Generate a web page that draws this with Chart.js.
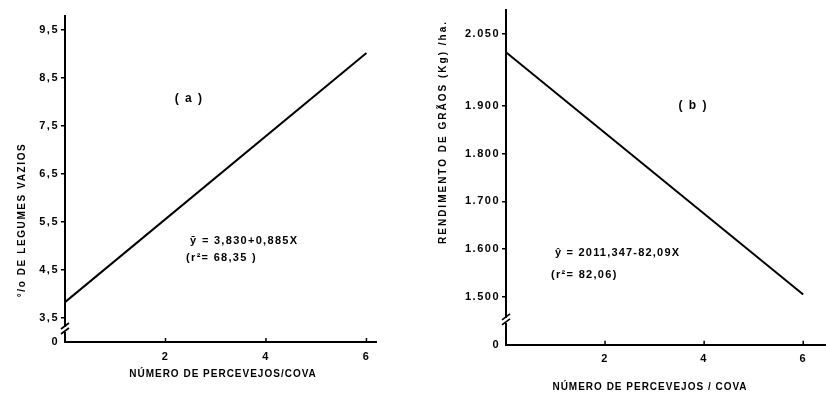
<!DOCTYPE html>
<html>
<head>
<meta charset="utf-8">
<script src="https://cdn.jsdelivr.net/npm/chart.js@4.4.0/dist/chart.umd.min.js"></script>
<style>
body{margin:0;background:#fff;width:826px;height:394px;overflow:hidden;position:relative}
canvas{position:absolute;top:0}
#chartA{left:0}
#chartB{left:413px}
</style>
</head>
<body>
<canvas id="chartA" width="413" height="394"></canvas>
<canvas id="chartB" width="413" height="394"></canvas>
<script>
// (a) % de legumes vazios
var xA = [0, 6]
var yA = [3.83, 9.02]
var yTicksA = [3, 3.5, 4.5, 5.5, 6.5, 7.5, 8.5, 9.5]
var yLabelsA = ["0", "3,5", "4,5", "5,5", "6,5", "7,5", "8,5", "9,5"]

// (b) rendimento de graos
var xB = [0, 6]
var yB = [2012, 1505]
var yTicksB = [1400, 1500, 1600, 1700, 1800, 1900, 2050]
var yLabelsB = ["0", "1.500", "1.600", "1.700", "1.800", "1.900", "2.050"]

var xTicks = [2, 4, 6]
var xLabels = ["2", "4", "6"]

var FONT = '"Liberation Sans", Arial, sans-serif'

function txt(ctx, s, x, y, font, align, spacing, rot) {
    ctx.save()
    ctx.font = font
    ctx.letterSpacing = spacing + 'px'
    ctx.fillStyle = '#000'
    ctx.textBaseline = 'middle'
    ctx.textAlign = align
    ctx.translate(x, y)
    if (rot) ctx.rotate(rot)
    ctx.fillText(s, 0, 0)
    ctx.restore()
}

function makeChart(id, xs, ys, yTicks, yLabels, cfg) {
    var extras = {
        id: 'extras',
        beforeUpdate: function(c) { c.ctx.letterSpacing = '1.5px' },
        beforeDraw: function(c) { c.ctx.letterSpacing = '1.5px' },
        afterDraw: function(c) {
            var ctx = c.ctx
            var sx = c.scales.x, sy = c.scales.y
            var a = c.chartArea
            // small x tick marks pointing up
            ctx.save()
            ctx.strokeStyle = '#000'
            ctx.lineWidth = 1.5
            xTicks.forEach(function(v) {
                var px = sx.getPixelForValue(v)
                ctx.beginPath()
                ctx.moveTo(px, a.bottom)
                ctx.lineTo(px, a.bottom - 4)
                ctx.stroke()
            })
            // axis break
            var py = sy.getPixelForValue(cfg.breakAt)
            var ax = a.left
            ctx.fillStyle = '#fff'
            ctx.fillRect(ax - 2, py - 3, 4, 5)
            ctx.lineWidth = 1.6
            ctx.beginPath()
            ctx.moveTo(ax - 4, py - 1); ctx.lineTo(ax + 4, py - 7)
            ctx.moveTo(ax - 4, py + 4); ctx.lineTo(ax + 4, py - 2)
            ctx.stroke()
            ctx.restore()
            // notes in data coordinates
            cfg.notes.forEach(function(n) {
                txt(ctx, n.text, sx.getPixelForValue(n.x), sy.getPixelForValue(n.y),
                    'bold ' + n.size + 'px ' + FONT, n.align, n.spacing)
            })
            // axis titles
            txt(ctx, cfg.yTitle, cfg.yTitlePos[0], cfg.yTitlePos[1], 'bold 10px ' + FONT, 'center', cfg.yTitleSpacing, -Math.PI / 2)
            txt(ctx, cfg.xTitle, cfg.xTitlePos[0], cfg.xTitlePos[1], 'bold 10px ' + FONT, 'center', 1)
        }
    }
    return new Chart(document.getElementById(id), {
        type: 'scatter',
        data: {
            datasets: [{
                data: xs.map(function(x, i) { return {x: x, y: ys[i]} }),
                showLine: true,
                pointRadius: 0,
                borderColor: '#000',
                borderWidth: 2,
                fill: false
            }]
        },
        options: {
            responsive: false,
            animation: false,
            devicePixelRatio: 1,
            layout: { padding: cfg.padding },
            plugins: { legend: { display: false }, tooltip: { enabled: false } },
            scales: {
                x: {
                    type: 'linear', min: 0, max: cfg.xMax,
                    afterBuildTicks: function(s) { s.ticks = xTicks.map(function(v) { return {value: v} }) },
                    afterFit: function(s) { s.height = cfg.xHeight },
                    grid: { drawOnChartArea: false, drawTicks: false },
                    border: { display: true, color: '#000', width: 2 },
                    ticks: {
                        autoSkip: false, maxRotation: 0, padding: 8, color: '#000',
                        font: { family: FONT, size: 11, weight: 'bold' },
                        callback: function(v, i) { return xLabels[i] }
                    }
                },
                y: {
                    type: 'linear', min: cfg.yMin, max: cfg.yMax,
                    afterBuildTicks: function(s) { s.ticks = yTicks.map(function(v) { return {value: v} }) },
                    afterFit: function(s) { s.width = cfg.yWidth },
                    grid: {
                        drawOnChartArea: false, drawTicks: true, tickLength: 4, lineWidth: 1.5,
                        color: function(c) { return c.index === 0 ? 'rgba(0,0,0,0)' : '#000' }
                    },
                    border: { display: true, color: '#000', width: 2 },
                    ticks: {
                        autoSkip: false, padding: 2, color: '#000',
                        font: { family: FONT, size: 11, weight: 'bold' },
                        callback: function(v, i) { return yLabels[i] }
                    }
                }
            }
        },
        plugins: [extras]
    })
}

makeChart('chartA', xA, yA, yTicksA, yLabelsA, {
    xMax: 6.2, yMin: 3, yMax: 9.8, breakAt: 3.25,
    yWidth: 65, xHeight: 52,
    padding: { left: 0, top: 15.6, right: 36.5, bottom: 0 },
    yTitle: '°/o DE LEGUMES VAZIOS', yTitlePos: [22, 220], yTitleSpacing: 1.6,
    xTitle: 'NÚMERO DE PERCEVEJOS/COVA', xTitlePos: [223, 374],
    notes: [
        { text: '( a )', x: 2.47, y: 8.06, size: 12, align: 'center', spacing: 1.5 },
        { text: 'ȳ = 3,830+0,885X', x: 2.49, y: 5.10, size: 11, align: 'left', spacing: 1.3 },
        { text: '(r²= 68,35 )', x: 2.41, y: 4.75, size: 11, align: 'left', spacing: 1.3 }
    ]
})

makeChart('chartB', xB, yB, yTicksB, yLabelsB, {
    xMax: 6.45, yMin: 1400, yMax: 2100, breakAt: 1450,
    yWidth: 93, xHeight: 49.2,
    padding: { left: 0, top: 10.1, right: 0.5, bottom: 0 },
    yTitle: 'RENDIMENTO DE GRÃOS (Kg) /ha.', yTitlePos: [30, 132], yTitleSpacing: 2,
    xTitle: 'NÚMERO DE PERCEVEJOS / COVA', xTitlePos: [237, 387],
    notes: [
        { text: '( b )', x: 3.78, y: 1901, size: 12, align: 'center', spacing: 1.5 },
        { text: 'ŷ = 2011,347-82,09X', x: 0.99, y: 1592, size: 11, align: 'left', spacing: 1.2 },
        { text: '(r²= 82,06)', x: 0.91, y: 1546, size: 11, align: 'left', spacing: 1.3 }
    ]
})
</script>
</body>
</html>
